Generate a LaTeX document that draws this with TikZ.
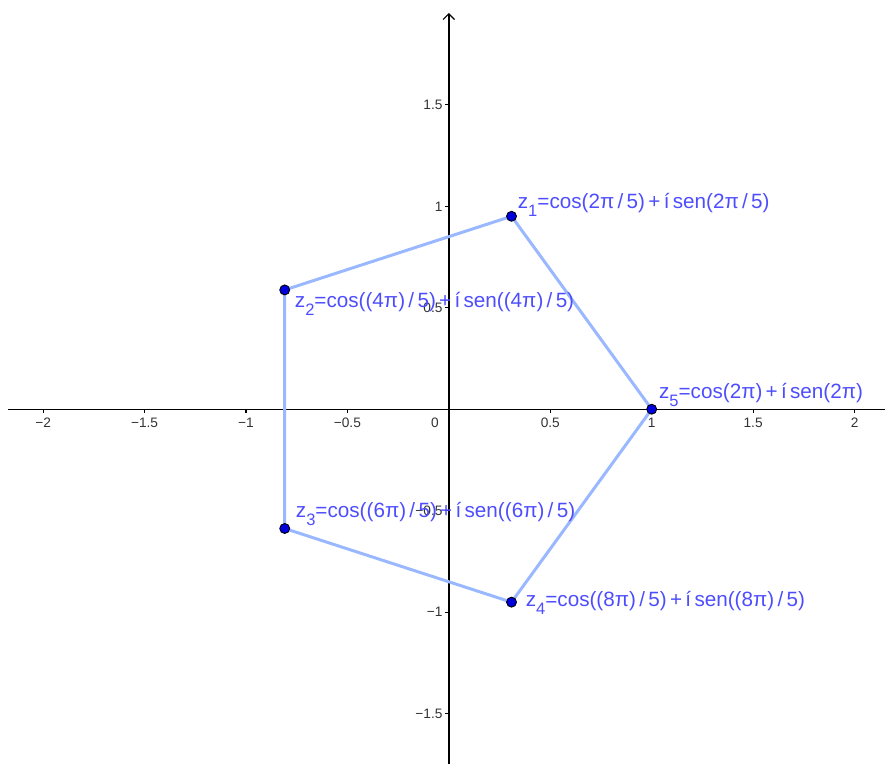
\documentclass[tikz,border=0pt]{standalone}
\usepackage{fontspec}
\setmainfont{Liberation Sans}
\usetikzlibrary{arrows.meta}
\definecolor{lbl}{HTML}{4D4DFF}
\definecolor{edg}{HTML}{9AB8FF}
\definecolor{pnt}{HTML}{0000DD}
\definecolor{tck}{HTML}{333333}
\newcommand{\zsub}[1]{\raisebox{-0.38em}{\fontsize{11.6}{12}\selectfont #1}}
\newcommand{\zfont}{\fontsize{14.5}{17}\selectfont\spaceskip 0.16em\relax}

\begin{document}
\begin{tikzpicture}[
  x=5cm, y=5cm,
  axis/.style={line width=0.95pt, black},
  tick/.style={line width=0.8pt, black},
  ticklbl/.style={font=\fontsize{9.6}{11}\selectfont, text=tck, inner sep=0pt},
  edge/.style={line width=2.1pt, edg, line join=round},
  pt/.style={circle, fill=pnt, draw=black, line width=0.6pt,
             minimum size=7pt, inner sep=0pt},
  zlbl/.style={font=\zfont, text=lbl, inner sep=0pt, anchor=base west},
]
\useasboundingbox (-2.2125,-1.749) rectangle (2.150,2.0172);

% ---------- Ejes ----------
\coordinate (xl) at (-2.173,0);
\coordinate (xr) at (2.150,0);
\coordinate (yb) at (0,-1.749);
\coordinate (yt) at (0,1.953);
\draw[axis] (xl) -- (xr);
\draw[axis, -{Straight Barb[length=4pt, width=8pt, line width=0.8pt]}] (yb) -- (yt);

% ---------- Marcas ----------
\foreach \v/\t in {-2/−2, -1.5/−1.5, -1/−1, -0.5/−0.5, 0.5/0.5, 1/1, 1.5/1.5, 2/2} {
  \draw[tick] (\v,0) -- (\v,-0.02);
  \node[ticklbl] (tx\v) at (\v,-0.068) {\t};
}
\foreach \v/\t in {-1.5/−1.5, -1/−1, -0.5/−0.5, 0.5/0.5, 1/1, 1.5/1.5} {
  \draw[tick] (0,\v) -- (-0.02,\v);
  \node[ticklbl, anchor=east] (ty\v) at (-0.03,\v) {\t};
}
\node[ticklbl] (t0) at (-0.068,-0.068) {0};

% ---------- Pentágono ----------
\coordinate (p1) at (0.309,0.951);
\coordinate (p2) at (-0.809,0.588);
\coordinate (p3) at (-0.809,-0.588);
\coordinate (p4) at (0.309,-0.951);
\coordinate (p5) at (1,0);
\draw[edge] (p1) -- (p2) -- (p3) -- (p4) -- (p5) -- cycle;

\foreach \i in {1,...,5} {
  \node[pt] (z\i) at (p\i) {};
}

% ---------- Etiquetas ----------
\node[zlbl] (l1) at ([shift={(0.030,0.039)}]p1)
  {z\zsub{1}=cos(2π / 5) + í sen(2π / 5)};
\node[zlbl] (l2) at ([shift={(0.049,-0.089)}]p2)
  {z\zsub{2}=cos((4π) / 5) + í sen((4π) / 5)};
\node[zlbl] (l3) at ([shift={(0.054,0.054)}]p3)
  {z\zsub{3}=cos((6π) / 5) + í sen((6π) / 5)};
\node[zlbl] (l4) at ([shift={(0.069,-0.020)}]p4)
  {z\zsub{4}=cos((8π) / 5) + í sen((8π) / 5)};
\node[zlbl] (l5) at ([shift={(0.035,0.054)}]p5)
  {z\zsub{5}=cos(2π) + í sen(2π)};
\end{tikzpicture}
\end{document}
